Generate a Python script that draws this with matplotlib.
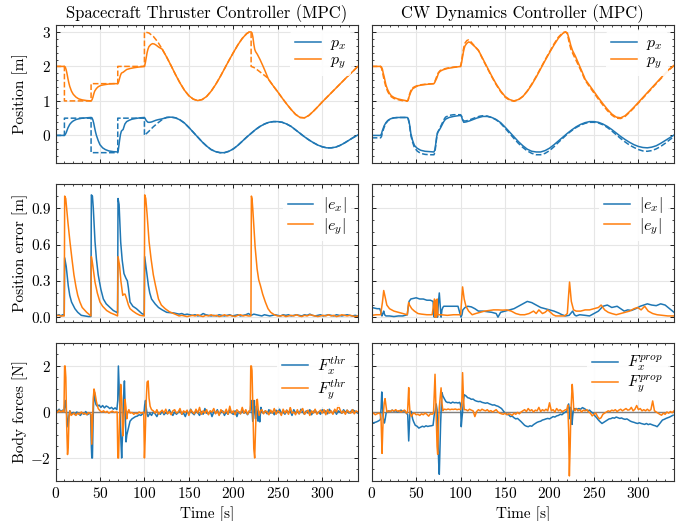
import numpy as np
import matplotlib
matplotlib.use("Agg")
import matplotlib.pyplot as plt
from matplotlib.ticker import MultipleLocator, FormatStrFormatter

# ---------------- data ----------------
# top row, thruster controller (left): transient part, then the common wave
t_px_thr = [0, 10, 11, 12, 13, 14, 16, 18, 20, 23, 26, 30, 35, 40, 41, 42, 43, 44, 45, 46,
            48, 50, 53, 56, 60, 65, 70, 70.5, 71, 72, 73, 74, 75, 76, 77, 78, 80, 83, 86, 90,
            95, 100, 101, 102, 104, 106, 108, 110, 113, 116, 120]
px_thr = [0, 0, 0.03, 0.08, 0.15, 0.22, 0.32, 0.38, 0.42, 0.46, 0.48, 0.5, 0.51, 0.52, 0.51, 0.45, 0.35, 0.22, 0.1, 0.0,
          -0.15, -0.27, -0.36, -0.41, -0.45, -0.47, -0.48, -0.45, -0.35, -0.15, 0.02, 0.12, 0.15, 0.17, 0.25, 0.33, 0.4, 0.44, 0.47, 0.49,
          0.51, 0.52, 0.48, 0.43, 0.38, 0.38, 0.39, 0.41, 0.44, 0.46, 0.48]
t_pxr_thr = [0, 10, 10, 40, 40, 70, 70, 100, 100, 105, 110, 115, 120]
pxr_thr = [0, 0, 0.5, 0.5, -0.5, -0.5, 0.5, 0.5, 0, 0.12, 0.25, 0.36, 0.46]

t_wave = np.arange(125, 341, 5)
px_wave = [0.52, 0.53, 0.51, 0.45, 0.36, 0.23, 0.09, -0.05, -0.19, -0.31,
           -0.41, -0.47, -0.5, -0.5, -0.46, -0.39, -0.29, -0.17, -0.05, 0.06,
           0.17, 0.26, 0.33, 0.38, 0.4, 0.4, 0.38, 0.33, 0.26, 0.16,
           0.06, -0.04, -0.13, -0.21, -0.28, -0.33, -0.36, -0.36, -0.34, -0.29,
           -0.22, -0.14, -0.06, 0.01]

t_py_thr = [0, 10, 11, 12, 13, 14, 15, 16, 18, 20, 23, 26, 30, 35, 40, 41, 42, 43, 44, 46,
            48, 51, 55, 60, 65, 70, 71, 72, 73, 74, 75, 76, 78, 80, 84, 88, 93, 100, 101, 102,
            103, 104, 105, 107, 109, 111, 113, 116, 120]
py_thr = [2, 2, 1.98, 1.9, 1.78, 1.64, 1.52, 1.42, 1.28, 1.19, 1.11, 1.06, 1.03, 1.01, 1.0, 1.03, 1.1, 1.2, 1.28, 1.36,
          1.41, 1.45, 1.47, 1.49, 1.5, 1.5, 1.55, 1.65, 1.74, 1.8, 1.82, 1.83, 1.87, 1.91, 1.94, 1.96, 1.98, 2.0, 2.1, 2.25,
          2.4, 2.5, 2.57, 2.63, 2.66, 2.65, 2.62, 2.56, 2.5]
t_pyr_thr = [0, 10, 10, 40, 40, 70, 70, 100, 100, 105, 110, 115, 120]
pyr_thr = [2, 2, 1, 1, 1.5, 1.5, 2, 2, 3, 2.97, 2.87, 2.71, 2.5]

t_wave1 = np.arange(125, 216, 5)
py_wave1 = [2.27, 2.02, 1.76, 1.52, 1.31, 1.15, 1.05, 1.01, 1.04, 1.13,
            1.28, 1.47, 1.69, 1.93, 2.17, 2.4, 2.62, 2.81, 2.95]
t_py_mid = [218, 220, 221, 222, 223, 224, 225, 227, 230, 233, 236, 239]
py_mid_thr = [3.0, 3.0, 2.97, 2.85, 2.65, 2.5, 2.43, 2.35, 2.2, 2.03, 1.85, 1.66]
t_pyr_mid = [218, 220, 220, 223, 227, 231, 235, 239]
pyr_mid_thr = [3.0, 3.0, 2.0, 1.97, 1.9, 1.82, 1.74, 1.66]
t_wave2 = np.arange(240, 341, 5)
py_wave2 = [1.61, 1.43, 1.26, 1.08, 0.91, 0.75, 0.61, 0.52, 0.51, 0.58,
            0.7, 0.83, 0.97, 1.1, 1.23, 1.36, 1.49, 1.62, 1.75, 1.87, 2.0]

# top row, CW dynamics controller (right)
t_cw = [0, 10, 11, 12, 14, 16, 18, 21, 25, 30, 35, 40, 41, 42, 43, 44, 46, 48, 51, 55,
        60, 65, 70, 71, 72, 73, 74, 75, 77, 79, 81, 83, 87, 92, 97, 100, 101, 102, 103.5, 106,
        110, 114, 118, 122]
px_cw = [0.0, 0.0, 0.05, 0.14, 0.28, 0.37, 0.43, 0.48, 0.51, 0.52, 0.52, 0.52, 0.49, 0.4, 0.25, 0.05, -0.15, -0.29, -0.37, -0.43,
         -0.46, -0.47, -0.48, -0.42, -0.25, -0.05, 0.08, 0.12, 0.2, 0.3, 0.4, 0.47, 0.52, 0.55, 0.57, 0.58, 0.55, 0.46, 0.38, 0.39,
         0.42, 0.46, 0.5, 0.53]
pxr_cw = [-0.07, -0.07, -0.03, 0.08, 0.24, 0.35, 0.42, 0.48, 0.51, 0.52, 0.52, 0.52, 0.48, 0.37, 0.2, 0.0, -0.2, -0.35, -0.45, -0.52,
          -0.55, -0.56, -0.56, -0.5, -0.3, -0.08, 0.07, 0.13, 0.23, 0.34, 0.45, 0.53, 0.58, 0.6, 0.6, 0.6, 0.56, 0.48, 0.42, 0.42,
          0.45, 0.49, 0.53, 0.56]
px_cw_wave = [0.55, 0.55, 0.52, 0.46, 0.37, 0.24, 0.1, -0.04, -0.18, -0.3,
              -0.4, -0.46, -0.48, -0.48, -0.44, -0.37, -0.27, -0.16, -0.05, 0.06,
              0.16, 0.25, 0.32, 0.37, 0.4, 0.4, 0.38, 0.33, 0.26, 0.17,
              0.07, -0.03, -0.12, -0.2, -0.27, -0.32, -0.35, -0.36, -0.34, -0.3,
              -0.23, -0.15, -0.07, 0.01]
pxr_cw_wave = [0.57, 0.56, 0.52, 0.45, 0.35, 0.21, 0.06, -0.09, -0.23, -0.35,
               -0.45, -0.52, -0.56, -0.56, -0.52, -0.44, -0.33, -0.2, -0.08, 0.04,
               0.14, 0.23, 0.3, 0.35, 0.38, 0.38, 0.36, 0.31, 0.23, 0.13,
               0.02, -0.09, -0.19, -0.28, -0.35, -0.41, -0.45, -0.46, -0.44, -0.39,
               -0.32, -0.23, -0.13, -0.03]

t_py_cw = [0, 10, 11, 12, 13, 14, 16, 18, 20, 22, 25, 29, 34, 40, 41, 42, 44, 46, 49, 52,
           56, 62, 70, 71, 72, 73, 74, 75, 77, 80, 85, 92, 100, 101, 102, 103, 104, 105, 107, 109,
           111, 114, 117, 120]
py_cw = [2.0, 2.0, 1.98, 1.92, 1.8, 1.7, 1.46, 1.32, 1.22, 1.15, 1.1, 1.06, 1.03, 1.0, 1.02, 1.12, 1.26, 1.35, 1.4, 1.44,
         1.46, 1.48, 1.5, 1.54, 1.6, 1.65, 1.72, 1.8, 1.86, 1.9, 1.94, 1.97, 2.0, 2.1, 2.25, 2.4, 2.52, 2.6, 2.67, 2.71,
         2.69, 2.62, 2.55, 2.47]
pyr_cw = [2.0, 2.0, 1.95, 1.85, 1.72, 1.6, 1.4, 1.27, 1.18, 1.12, 1.07, 1.04, 1.01, 0.99, 1.03, 1.15, 1.3, 1.38, 1.42, 1.45,
          1.47, 1.49, 1.5, 1.56, 1.63, 1.7, 1.76, 1.82, 1.88, 1.92, 1.95, 1.98, 2.0, 2.15, 2.32, 2.48, 2.6, 2.68, 2.75, 2.77,
          2.73, 2.64, 2.55, 2.46]
py_cw_wave1 = [2.22, 1.97, 1.72, 1.49, 1.29, 1.13, 1.04, 1.0, 1.04, 1.13,
               1.28, 1.47, 1.69, 1.93, 2.17, 2.4, 2.62, 2.82, 2.96]
pyr_cw_wave1 = [2.2, 1.95, 1.7, 1.47, 1.27, 1.11, 1.02, 0.99, 1.03, 1.13,
                1.29, 1.49, 1.71, 1.95, 2.19, 2.42, 2.65, 2.85, 2.98]
t_cw_mid = [218, 220, 222, 224, 226, 229, 232, 236, 239]
py_cw_mid = [3.0, 2.97, 2.8, 2.6, 2.45, 2.3, 2.12, 1.88, 1.7]
pyr_cw_mid = [3.0, 2.95, 2.7, 2.5, 2.38, 2.22, 2.06, 1.84, 1.66]
py_cw_wave2 = [1.63, 1.45, 1.27, 1.09, 0.92, 0.76, 0.62, 0.53, 0.51, 0.57,
               0.69, 0.82, 0.96, 1.1, 1.24, 1.38, 1.52, 1.66, 1.8, 1.93, 2.03]
pyr_cw_wave2 = [1.6, 1.41, 1.23, 1.05, 0.88, 0.72, 0.59, 0.5, 0.49, 0.55,
                0.67, 0.8, 0.94, 1.08, 1.22, 1.36, 1.5, 1.64, 1.78, 1.91, 2.02]

# middle row, thruster controller errors
t_ex_thr = [0, 2, 4, 6, 8, 9.8, 10.3, 12, 14.3, 16, 18, 21.8, 25, 29, 33, 37, 39.8, 40.3, 41.5, 42.5,
            44.4, 46, 48, 51, 53.8, 57, 61.3, 65, 68.8, 69.8, 70.3, 71.5, 73.3, 75, 77, 79.3, 80.8, 82, 83.8, 87,
            91, 94, 97, 99.8, 100.3, 102, 104.5, 106, 108, 112, 115.8, 120, 125, 129, 133]
ex_thr = [0.02, 0.015, 0.02, 0.01, 0.02, 0.015, 0.49, 0.42, 0.26, 0.18, 0.125, 0.07, 0.04, 0.015, 0.01, 0.005, 0.005, 1.01, 1.0, 0.9,
          0.625, 0.48, 0.35, 0.23, 0.15, 0.11, 0.08, 0.055, 0.04, 0.035, 0.98, 0.93, 0.62, 0.47, 0.36, 0.32, 0.3, 0.24, 0.125, 0.09,
          0.07, 0.05, 0.03, 0.02, 0.5, 0.4, 0.26, 0.2, 0.15, 0.11, 0.08, 0.06, 0.04, 0.037, 0.035]
t_ex_thr_tail = np.arange(136, 341, 3)
ex_thr_tail = [0.03, 0.025, 0.03, 0.02, 0.025, 0.02, 0.015, 0.02, 0.01, 0.015,
               0.03, 0.02, 0.015, 0.01, 0.015, 0.01, 0.02, 0.015, 0.01, 0.015,
               0.02, 0.01, 0.015, 0.02, 0.01, 0.015, 0.02, 0.03, 0.015, 0.025,
               0.02, 0.015, 0.01, 0.02, 0.015, 0.01, 0.015, 0.02, 0.015, 0.01,
               0.02, 0.015, 0.02, 0.01, 0.015, 0.02, 0.015, 0.01, 0.02, 0.015,
               0.025, 0.015, 0.01, 0.015, 0.02, 0.01, 0.015, 0.02, 0.015, 0.01,
               0.02, 0.015, 0.01, 0.015, 0.02, 0.015, 0.01, 0.015, 0.01]

t_ey_thr = [0, 3, 6, 9.8, 10.3, 11.5, 12.5, 14, 16.2, 18.5, 20.7, 23, 25, 27.4, 30, 35, 39.8, 40.3, 41.5, 44.4,
            47, 50, 53, 57.5, 62, 67, 69.8, 70.3, 72, 73.5, 75.6, 77, 78.2, 80, 82, 83.8, 87, 91, 95, 99.8,
            100.3, 101.5, 103, 105.2, 107.5, 110, 112.5, 115.8, 119, 123.3, 128, 132.7, 136]
ey_thr = [0.01, 0.015, 0.01, 0.01, 1.0, 0.98, 0.9, 0.78, 0.625, 0.48, 0.35, 0.25, 0.18, 0.125, 0.08, 0.04, 0.01, 0.5, 0.45, 0.29,
          0.2, 0.125, 0.09, 0.055, 0.035, 0.02, 0.01, 0.5, 0.43, 0.3, 0.18, 0.19, 0.19, 0.15, 0.1, 0.07, 0.05, 0.03, 0.015, 0.01,
          1.01, 0.98, 0.85, 0.625, 0.48, 0.35, 0.26, 0.15, 0.1, 0.07, 0.045, 0.03, 0.02]
t_ey_thr_mid = np.arange(139, 218, 3)
ey_thr_mid = [0.01, 0.015, 0.01, 0.005, 0.01, 0.015, 0.01, 0.02, 0.01, 0.005,
              0.015, 0.01, 0.02, 0.01, 0.015, 0.005, 0.01, 0.02, 0.01, 0.015,
              0.01, 0.005, 0.015, 0.02, 0.01, 0.015, 0.01]
t_ey_thr_spike = [219.8, 220.3, 221, 222, 223, 224.5, 226.7, 228.5, 230.5, 233, 236, 239, 242, 246, 250]
ey_thr_spike = [0.01, 1.0, 0.98, 0.88, 0.76, 0.58, 0.4, 0.31, 0.26, 0.19, 0.125, 0.07, 0.04, 0.02, 0.01]
t_ey_thr_tail = np.arange(253, 341, 3)
ey_thr_tail = [0.01, 0.015, 0.005, 0.01, 0.015, 0.01, 0.02, 0.01, 0.005, 0.015,
               0.01, 0.02, 0.015, 0.01, 0.005, 0.01, 0.015, 0.01, 0.02, 0.01,
               0.015, 0.005, 0.01, 0.02, 0.015, 0.01, 0.015, 0.01, 0.005, 0.01]

# middle row, CW controller errors
t_ex_cw = [0, 3, 6, 9, 10.5, 11.5, 12.5, 13.5, 14.5, 16, 20, 25, 30, 35, 40, 41, 42, 44, 47, 50,
           54, 58, 62, 66, 69, 70.3, 71, 72, 73, 74, 75, 76, 77, 78, 79, 80, 81, 83.5, 88, 93,
           97, 100.4, 101.5, 102.5, 105, 108, 112, 116, 120, 125, 130, 135, 140, 142, 145, 150, 155, 160, 165, 170,
           175, 180, 185, 190, 195, 200, 205, 210, 214, 218, 222, 226, 228, 230, 234, 240, 245, 250, 255, 260,
           265, 270, 276, 280, 284, 288, 292, 297, 302, 306, 310, 315, 320, 325, 330, 335, 340]
ex_cw = [0.08, 0.075, 0.07, 0.07, 0.04, 0.01, 0.03, 0.05, 0.02, 0.01, 0.01, 0.005, 0.01, 0.01, 0.02, 0.08, 0.13, 0.15, 0.155, 0.16,
         0.15, 0.15, 0.14, 0.14, 0.13, 0.0, 0.1, 0.0, 0.05, 0.0, 0.12, 0.2, 0.1, 0.0, 0.06, 0.08, 0.09, 0.09, 0.09, 0.09,
         0.09, 0.0, 0.02, 0.06, 0.08, 0.09, 0.085, 0.07, 0.05, 0.05, 0.045, 0.04, 0.03, 0.0, 0.04, 0.05, 0.06, 0.07, 0.09, 0.11,
         0.13, 0.12, 0.1, 0.08, 0.07, 0.06, 0.05, 0.035, 0.02, 0.01, 0.015, 0.05, 0.02, 0.01, 0.02, 0.015, 0.01, 0.03, 0.05, 0.09,
         0.1, 0.08, 0.09, 0.07, 0.05, 0.06, 0.055, 0.07, 0.09, 0.1, 0.11, 0.1, 0.095, 0.11, 0.1, 0.07, 0.04]
t_ey_cw = [0, 5, 10, 12, 13.5, 15, 17, 20, 25, 30, 35, 40, 41.5, 42.5, 45, 48, 52, 56, 62, 68,
           70.5, 71.3, 72, 72.8, 73.6, 74.4, 75.5, 78, 85, 92, 100, 101.5, 102.2, 104, 106, 109, 113, 117, 122, 127,
           132, 137, 142, 147, 152, 157, 162, 167, 172, 177, 182, 185, 188, 192, 195, 198, 201, 204, 207, 212,
           217, 220, 222.5, 224.5, 227, 230, 235, 240, 245, 250, 255, 258, 262, 266, 270, 275, 280, 285, 290, 295,
           299, 303, 307, 311, 316, 321, 327, 333, 340]
ey_cw = [0.015, 0.02, 0.02, 0.12, 0.22, 0.17, 0.1, 0.07, 0.05, 0.04, 0.03, 0.02, 0.12, 0.1, 0.07, 0.05, 0.03, 0.025, 0.02, 0.02,
         0.15, 0.0, 0.14, 0.0, 0.15, 0.02, 0.02, 0.02, 0.015, 0.02, 0.02, 0.18, 0.25, 0.15, 0.09, 0.05, 0.02, 0.03, 0.04, 0.05,
         0.055, 0.06, 0.06, 0.058, 0.06, 0.05, 0.03, 0.02, 0.02, 0.03, 0.05, 0.03, 0.06, 0.03, 0.04, 0.06, 0.04, 0.02, 0.01, 0.01,
         0.01, 0.03, 0.29, 0.13, 0.06, 0.05, 0.05, 0.06, 0.06, 0.07, 0.08, 0.1, 0.06, 0.04, 0.03, 0.02, 0.03, 0.04, 0.05, 0.07,
         0.08, 0.06, 0.09, 0.05, 0.03, 0.02, 0.015, 0.01, 0.01]

# bottom row, thruster forces
fx_thr_parts = [
    ([0, 2, 4, 6, 8], [0.1, 0.04, 0.12, 0.02, 0.08]),
    ([9.5, 10.3, 11, 12, 13, 14, 15, 16, 17], [0.02, 0.3, 0.5, 0.1, -0.3, -0.65, -0.2, 0.05, -0.05]),
    (np.arange(18, 39, 2), [-0.1, -0.02, -0.12, 0.0, -0.08, -0.15, -0.03, -0.1, 0.02, -0.12, -0.05]),
    ([39.5, 40.3, 40.8, 41.5, 42.2, 43, 43.8, 44.6, 45.5, 47], [-0.1, -1.5, -2.0, -2.0, -0.5, 0.7, 0.85, 0.5, 0.32, 0.25]),
    (np.arange(49, 68, 2), [0.3, 0.2, 0.28, 0.18, 0.26, 0.22, 0.15, 0.2, 0.12, 0.18]),
    ([69, 70, 70.7, 71.5, 72.6, 73.5, 74.4, 75.5, 76.5, 77.5, 78.3, 79.3, 80.2, 81.2, 82.5, 83.8, 86, 88, 90, 92, 94, 96, 98],
     [0.1, 0.5, 2.0, 1.2, 0.0, -1.2, -2.0, -0.8, 0.6, 1.35, 0.2, -1.3, -1.0, -0.83, -0.6, -0.4, -0.3, -0.25, -0.2, -0.18, -0.12, -0.15, -0.08]),
    ([99.5, 100.3, 101.2, 102, 103, 104], [-0.05, 0.3, 0.5, 0.2, -0.1, -0.2]),
    (np.arange(106, 219, 2), [-0.05, -0.15, 0.0, -0.08, -0.2, -0.02, -0.1, 0.05, -0.12, -0.03,
                              -0.08, 0.1, -0.05, -0.15, 0.0, -0.1, -0.02, 0.08, -0.1, -0.05,
                              -0.2, 0.02, -0.08, 0.12, -0.05, -0.12, 0.05, -0.03, -0.15, 0.02,
                              -0.1, 0.15, -0.05, -0.08, 0.03, -0.2, 0.0, -0.05, 0.1, -0.12,
                              -0.02, 0.05, -0.15, 0.0, -0.1, 0.12, -0.05, -0.1, 0.05, -0.2,
                              0.02, -0.08, 0.1, -0.05, 0.0, -0.12, 0.05]),
    ([219, 219.6, 220.3, 221, 221.8, 222.5, 223.3, 224, 225, 226, 227, 227.8, 228.8, 229.7, 231, 232, 233.5],
     [0.05, 0.3, 0.5, 0.1, -0.4, 0.2, 0.5, 0.0, -0.3, 0.26, 0.0, -0.4, -0.1, -0.43, 0.2, 0.05, -0.05]),
    (np.arange(236, 341, 2), [0.05, -0.08, 0.1, -0.05, 0.02, -0.12, 0.08, -0.03, 0.12, -0.05,
                              0.0, -0.1, 0.08, -0.02, 0.05, -0.15, 0.1, -0.05, 0.03, -0.08,
                              0.12, 0.0, -0.1, 0.05, -0.05, 0.1, -0.12, 0.02, 0.08, -0.05,
                              0.0, -0.1, 0.1, -0.03, 0.05, -0.08, 0.12, 0.0, -0.05, 0.08,
                              -0.1, 0.05, 0.0, -0.06, 0.1, -0.02, 0.08, -0.05, 0.02, 0.1,
                              0.05, 0.0, -0.05]),
]
fy_thr_parts = [
    ([0, 2, 4, 6, 8], [0.05, -0.02, 0.08, 0.0, 0.05]),
    ([9.5, 10.2, 10.8, 11.6, 12.5, 13.5, 14.3, 15.2, 16.2, 17.5], [0.0, 2.0, 2.0, 1.5, -0.5, -1.85, -1.5, -0.2, 0.05, -0.15]),
    (np.arange(19, 40, 2), [-0.1, -0.05, -0.15, -0.05, -0.1, 0.0, -0.08, -0.05, -0.12, -0.03, -0.06]),
    ([40, 40.8, 41.6, 42.5, 43.3, 44.5, 46, 48, 50], [-0.1, -1.4, -0.5, 0.6, 1.0, 0.8, 0.45, 0.15, 0.05]),
    (np.arange(52, 69, 2), [0.0, 0.05, -0.02, 0.03, -0.05, 0.0, 0.04, -0.02, 0.0]),
    ([69.3, 70.1, 70.9, 72, 73.3, 74.4, 75.6, 76.8, 78.2, 79.2, 80.1, 81.2, 82.5, 84, 86, 88, 90, 92, 94, 96, 98],
     [0.0, -2.0, -2.0, -0.3, 1.2, 0.5, -1.04, -0.4, 0.55, 0.2, -0.3, 0.0, 0.1, -0.05, -0.02, -0.1, -0.05, -0.08, 0.0, -0.05, -0.03]),
    ([99.2, 100, 100.8, 101.8, 103, 104.2, 105.2, 106.4, 108], [0.0, -2.0, -1.2, 0.3, 1.3, 1.35, 0.6, 0.25, 0.1]),
    (np.arange(110, 219, 2), [0.05, -0.05, 0.1, -0.1, 0.0, 0.08, -0.05, 0.12, -0.08, 0.02,
                              -0.12, 0.05, 0.1, -0.05, 0.0, 0.15, -0.1, 0.05, -0.02, 0.08,
                              -0.15, 0.1, 0.0, -0.08, 0.12, -0.05, 0.2, -0.1, 0.05, -0.05,
                              0.1, -0.12, 0.05, 0.0, 0.15, -0.08, 0.05, -0.15, 0.1, 0.0,
                              -0.05, 0.12, -0.1, 0.25, -0.05, 0.05, -0.12, 0.1, 0.0, -0.08,
                              0.2, -0.05, 0.1, -0.1, 0.05]),
    ([219, 219.6, 220.3, 221, 222, 223, 224, 225, 226, 227, 228, 229, 230.5],
     [0.05, 2.0, 2.0, 1.8, 0.2, -1.6, -2.0, -0.8, 0.5, 0.55, 0.1, -0.15, 0.05]),
    (np.arange(232, 341, 2), [0.1, -0.08, 0.05, 0.0, -0.12, 0.08, -0.05, 0.15, -0.1, 0.05,
                              0.0, -0.15, 0.12, -0.05, 0.08, -0.1, 0.2, -0.05, 0.0, -0.12,
                              0.1, -0.08, 0.05, 0.15, -0.1, 0.0, 0.08, -0.15, 0.05, -0.05,
                              0.12, -0.1, 0.0, 0.08, -0.05, 0.1, -0.12, 0.1, -0.05, 0.05,
                              -0.1, 0.12, 0.0, 0.3, 0.1, -0.05, 0.05, -0.1, 0.08, 0.0,
                              -0.05, 0.1, -0.08, 0.05, 0.0]),
]

# bottom row, CW controller (propulsion) forces
fx_cw_parts = [
    ([0, 2, 4, 6, 8, 9.8, 10.6, 11.3, 12, 12.8, 13.6, 14.3, 15.2, 16.2, 17.5],
     [-0.49, -0.47, -0.45, -0.42, -0.38, -0.33, 0.2, 0.87, 0.4, -0.2, -0.4, -0.48, -0.3, -0.05, 0.02]),
    (np.arange(19, 40, 2), [0.05, 0.02, 0.08, 0.03, 0.06, 0.0, 0.05, 0.08, 0.03, 0.06, -0.05]),
    ([40.5, 41.6, 42.3, 43, 44.5, 46, 47.1], [-0.12, -1.26, -0.6, 0.0, 0.03, -0.3, -0.42]),
    (np.arange(49, 70, 2), [-0.58, -0.62, -0.7, -0.66, -0.62, -0.65, -0.6, -0.63, -0.61, -0.6, -0.58]),
    ([70.4, 71.5, 72.5, 73.5, 74.5, 75.3, 76, 76.8, 77.5, 78.3, 79, 80, 81.6, 83.5, 85.4],
     [-0.1, 0.05, 0.35, 0.1, -1.2, -2.2, -2.71, -1.5, -0.5, 0.3, 0.84, 0.7, 0.58, 0.45, 0.41]),
    (np.arange(87, 100, 2), [0.42, 0.38, 0.43, 0.4, 0.41, 0.39, 0.42]),
    ([100, 100.7, 101.4, 102.2, 103.2, 104.1], [0.3, -0.64, -0.3, 0.0, 0.5, 0.75]),
    (np.arange(106, 167, 2), [0.7, 0.62, 0.6, 0.55, 0.56, 0.5, 0.47, 0.45, 0.46, 0.42,
                              0.4, 0.38, 0.4, 0.36, 0.33, 0.3, 0.31, 0.27, 0.25, 0.2,
                              0.15, 0.05, -0.05, -0.1, -0.12, -0.2, -0.18, -0.25, -0.3, -0.28,
                              -0.35]),
    (np.arange(168, 219, 2), [-0.42, -0.5, -0.58, -0.62, -0.64, -0.6, -0.62, -0.55, -0.5, -0.45,
                              -0.42, -0.4, -0.35, -0.33, -0.3, -0.28, -0.3, -0.25, -0.2, -0.22,
                              -0.17, -0.15, -0.1, -0.12, -0.05, 0.0]),
    ([219.5, 220.5, 221.5, 222.3, 223, 223.8, 224.5, 225.3, 226, 226.7, 227.5, 228.5, 229.7],
     [0.05, 0.2, 0.35, 0.1, -0.3, 0.2, 0.1, -0.54, -0.2, 0.05, 0.15, 0.1, 0.15]),
    (np.arange(231, 340, 2), [0.12, 0.15, 0.12, 0.19, 0.15, 0.1, 0.05, 0.08, 0.0, -0.05,
                              -0.17, -0.25, -0.35, -0.43, -0.5, -0.45, -0.4, -0.35, -0.3, -0.29,
                              -0.25, -0.27, -0.22, -0.25, -0.28, -0.26, -0.3, -0.32, -0.3, -0.35,
                              -0.4, -0.43, -0.45, -0.48, -0.5, -0.47, -0.5, -0.52, -0.54, -0.5,
                              -0.55, -0.52, -0.55, -0.58, -0.6, -0.64, -0.55, -0.45, -0.35, -0.32,
                              -0.28, -0.25, -0.22, -0.18, -0.14]),
]
fy_cw_parts = [
    ([0, 2, 4, 6, 8, 9.5, 10.5, 11.6, 12.4, 13.2, 14.1, 15, 16, 17],
     [-0.1, -0.05, -0.12, -0.08, -0.05, -0.08, -0.3, -1.8, -0.8, 0.0, 0.4, 0.58, 0.3, 0.0]),
    (np.arange(19, 40, 2), [0.05, 0.02, 0.08, 0.04, 0.1, 0.03, 0.06, 0.0, 0.05, 0.08, -0.05]),
    ([40.3, 41, 41.6, 42.3, 43.1, 44.6], [0.0, 0.6, 1.06, 0.4, -0.05, -0.2]),
    (np.arange(46, 69, 2), [-0.08, -0.05, -0.12, -0.1, -0.15, -0.08, -0.12, -0.05, -0.1, -0.18, -0.08, -0.1]),
    ([69.5, 70.3, 71.2, 72, 72.8, 73.5, 74.2, 75, 76, 77, 78, 79, 80, 80.5],
     [-0.05, 0.8, 1.64, 0.5, -0.8, -1.5, -1.84, -0.6, 0.2, 0.6, 1.05, 0.4, 0.05, 0.1]),
    (np.arange(82, 101, 2), [0.12, 0.1, 0.13, 0.1, 0.12, 0.11, 0.13, 0.1, 0.12, 0.1]),
    ([101.2, 102.2, 103.2, 104.1], [0.3, 1.71, 0.6, 0.1]),
    (np.arange(106, 219, 2), [0.1, 0.05, 0.12, 0.08, 0.05, -0.2, 0.02, 0.1, 0.05, 0.12,
                              0.08, 0.05, 0.1, 0.02, 0.06, 0.0, 0.05, 0.1, 0.0, -0.05,
                              -0.08, -0.1, -0.05, -0.12, -0.08, -0.1, -0.15, -0.05, -0.1, -0.02,
                              -0.08, 0.0, 0.05, 0.1, 0.02, 0.15, 0.05, 0.1, 0.0, 0.08,
                              0.05, 0.2, 0.02, 0.1, 0.05, 0.12, 0.05, 0.4, 0.05, 0.1,
                              0.0, 0.15, 0.05, 0.1, 0.02, 0.05, 0.1]),
    ([219.5, 220.5, 221.5, 222.3, 223.2, 224, 224.8, 225.5, 226.3, 227.2, 228.5],
     [0.1, 0.3, -0.8, -2.78, -1.5, 0.0, 0.6, 1.2, 0.8, 0.1, 0.05]),
    (np.arange(230, 341, 2), [0.15, 0.05, 0.1, 0.0, 0.08, 0.05, 0.1, 0.0, -0.05, -0.17,
                              -0.1, -0.05, -0.2, -0.3, -0.25, -0.1, -0.05, 0.0, 0.05, 0.02,
                              0.08, 0.05, 0.1, 0.02, 0.08, 0.12, 0.05, 0.1, 0.15, 0.08,
                              0.1, 0.2, 0.05, 0.12, 0.28, 0.1, 0.15, 0.05, 0.1, 0.05,
                              0.12, 0.05, 0.1, 0.48, 0.05, 0.0, -0.05, -0.1, -0.14, -0.05,
                              -0.1, 0.0, -0.05, 0.02, -0.03, 0.05]),
]


def join(parts):
    t = np.concatenate([np.asarray(p[0], dtype=float) for p in parts])
    v = np.concatenate([np.asarray(p[1], dtype=float) for p in parts])
    return t, v


BLUE = "#1f77b4"
ORANGE = "#ff7f0e"

plt.rcParams.update({
    "font.family": "serif",
    "font.serif": ["cmr10"],
    "mathtext.fontset": "cm",
    "axes.formatter.use_mathtext": True,
    "font.size": 11,
    "axes.linewidth": 0.8,
    "xtick.direction": "in", "ytick.direction": "in",
    "xtick.top": True, "ytick.right": True,
    "xtick.major.size": 3, "ytick.major.size": 3,
    "xtick.minor.size": 1.6, "ytick.minor.size": 1.6,
    "xtick.major.width": 0.6, "ytick.major.width": 0.6,
    "xtick.minor.width": 0.5, "ytick.minor.width": 0.5,
    "grid.color": "#e6e6e6", "grid.linewidth": 0.8,
})

fig, axes = plt.subplots(3, 2, figsize=(6.94, 5.21), dpi=100, sharex=True, sharey="row")
fig.subplots_adjust(left=0.080, right=0.9712, top=0.952, bottom=0.0768, wspace=0.046, hspace=0.152)

lw = 1.1

# ---- top row
ax = axes[0, 0]
ax.plot(np.concatenate([t_pxr_thr, t_wave]), np.concatenate([pxr_thr, px_wave]), "--", color=BLUE, lw=lw)
ax.plot(np.concatenate([t_pyr_thr, t_wave1, t_pyr_mid, t_wave2]),
        np.concatenate([pyr_thr, py_wave1, pyr_mid_thr, py_wave2]), "--", color=ORANGE, lw=lw)
ax.plot(np.concatenate([t_px_thr, t_wave]), np.concatenate([px_thr, px_wave]), color=BLUE, lw=lw, label="$p_x$")
ax.plot(np.concatenate([t_py_thr, t_wave1, t_py_mid, t_wave2]),
        np.concatenate([py_thr, py_wave1, py_mid_thr, py_wave2]), color=ORANGE, lw=lw, label="$p_y$")

ax = axes[0, 1]
ax.plot(np.concatenate([t_cw, t_wave]), np.concatenate([pxr_cw, pxr_cw_wave]), "--", color=BLUE, lw=lw)
ax.plot(np.concatenate([t_py_cw, t_wave1, t_cw_mid, t_wave2]),
        np.concatenate([pyr_cw, pyr_cw_wave1, pyr_cw_mid, pyr_cw_wave2]), "--", color=ORANGE, lw=lw)
ax.plot(np.concatenate([t_cw, t_wave]), np.concatenate([px_cw, px_cw_wave]), color=BLUE, lw=lw, label="$p_x$")
ax.plot(np.concatenate([t_py_cw, t_wave1, t_cw_mid, t_wave2]),
        np.concatenate([py_cw, py_cw_wave1, py_cw_mid, py_cw_wave2]), color=ORANGE, lw=lw, label="$p_y$")

# ---- middle row
ax = axes[1, 0]
ax.plot(np.concatenate([t_ex_thr, t_ex_thr_tail]), np.concatenate([ex_thr, ex_thr_tail]), color=BLUE, lw=lw, label="$|e_x|$")
ax.plot(np.concatenate([t_ey_thr, t_ey_thr_mid, t_ey_thr_spike, t_ey_thr_tail]),
        np.concatenate([ey_thr, ey_thr_mid, ey_thr_spike, ey_thr_tail]), color=ORANGE, lw=lw, label="$|e_y|$")
ax = axes[1, 1]
ax.plot(t_ex_cw, ex_cw, color=BLUE, lw=lw, label="$|e_x|$")
ax.plot(t_ey_cw, ey_cw, color=ORANGE, lw=lw, label="$|e_y|$")

# ---- bottom row
for ax, fx, fy, sup in [(axes[2, 0], fx_thr_parts, fy_thr_parts, "thr"),
                        (axes[2, 1], fx_cw_parts, fy_cw_parts, "prop")]:
    ax.axhline(0, color="#808080", lw=1.0, zorder=1.5)
    ax.plot(*join(fx), color=BLUE, lw=lw, label="$F_x^{%s}$" % sup)
    ax.plot(*join(fy), color=ORANGE, lw=lw, label="$F_y^{%s}$" % sup)

# ---- styling
ylims = [(-0.8, 3.2), (-0.04, 1.1), (-3, 3)]
yticks = [[0, 1, 2, 3], [0.0, 0.3, 0.6, 0.9], [-2, 0, 2]]
yminor = [0.2, 0.1, 0.5]
for r in range(3):
    for c in range(2):
        ax = axes[r, c]
        ax.set_xlim(0, 340)
        ax.set_ylim(*ylims[r])
        ax.set_yticks(yticks[r])
        ax.yaxis.set_minor_locator(MultipleLocator(yminor[r]))
        ax.xaxis.set_major_locator(MultipleLocator(50))
        ax.xaxis.set_minor_locator(MultipleLocator(10))
        ax.grid(True, which="major")
        ax.set_axisbelow(True)
        for s in ax.spines.values():
            s.set_color("#333333")
        ax.legend(loc="upper right", fontsize=11.5, frameon=True, facecolor="white",
                  edgecolor="none", framealpha=0.9, handlelength=1.6, handletextpad=0.6,
                  labelspacing=0.05, borderpad=0.3, borderaxespad=0.4)
axes[1, 0].yaxis.set_major_formatter(FormatStrFormatter("%.1f"))

axes[0, 0].set_ylabel("Position [m]")
axes[1, 0].set_ylabel("Position error [m]")
axes[2, 0].set_ylabel("Body forces [N]")
for r in range(3):
    axes[r, 0].yaxis.set_label_coords(-0.09, 0.5)
axes[2, 0].set_xlabel("Time [s]")
axes[2, 1].set_xlabel("Time [s]")
axes[0, 0].set_title("Spacecraft Thruster Controller (MPC)", fontsize=12, pad=5)
axes[0, 1].set_title("CW Dynamics Controller (MPC)", fontsize=12, pad=5)

fig.savefig("out.png", dpi=100)
